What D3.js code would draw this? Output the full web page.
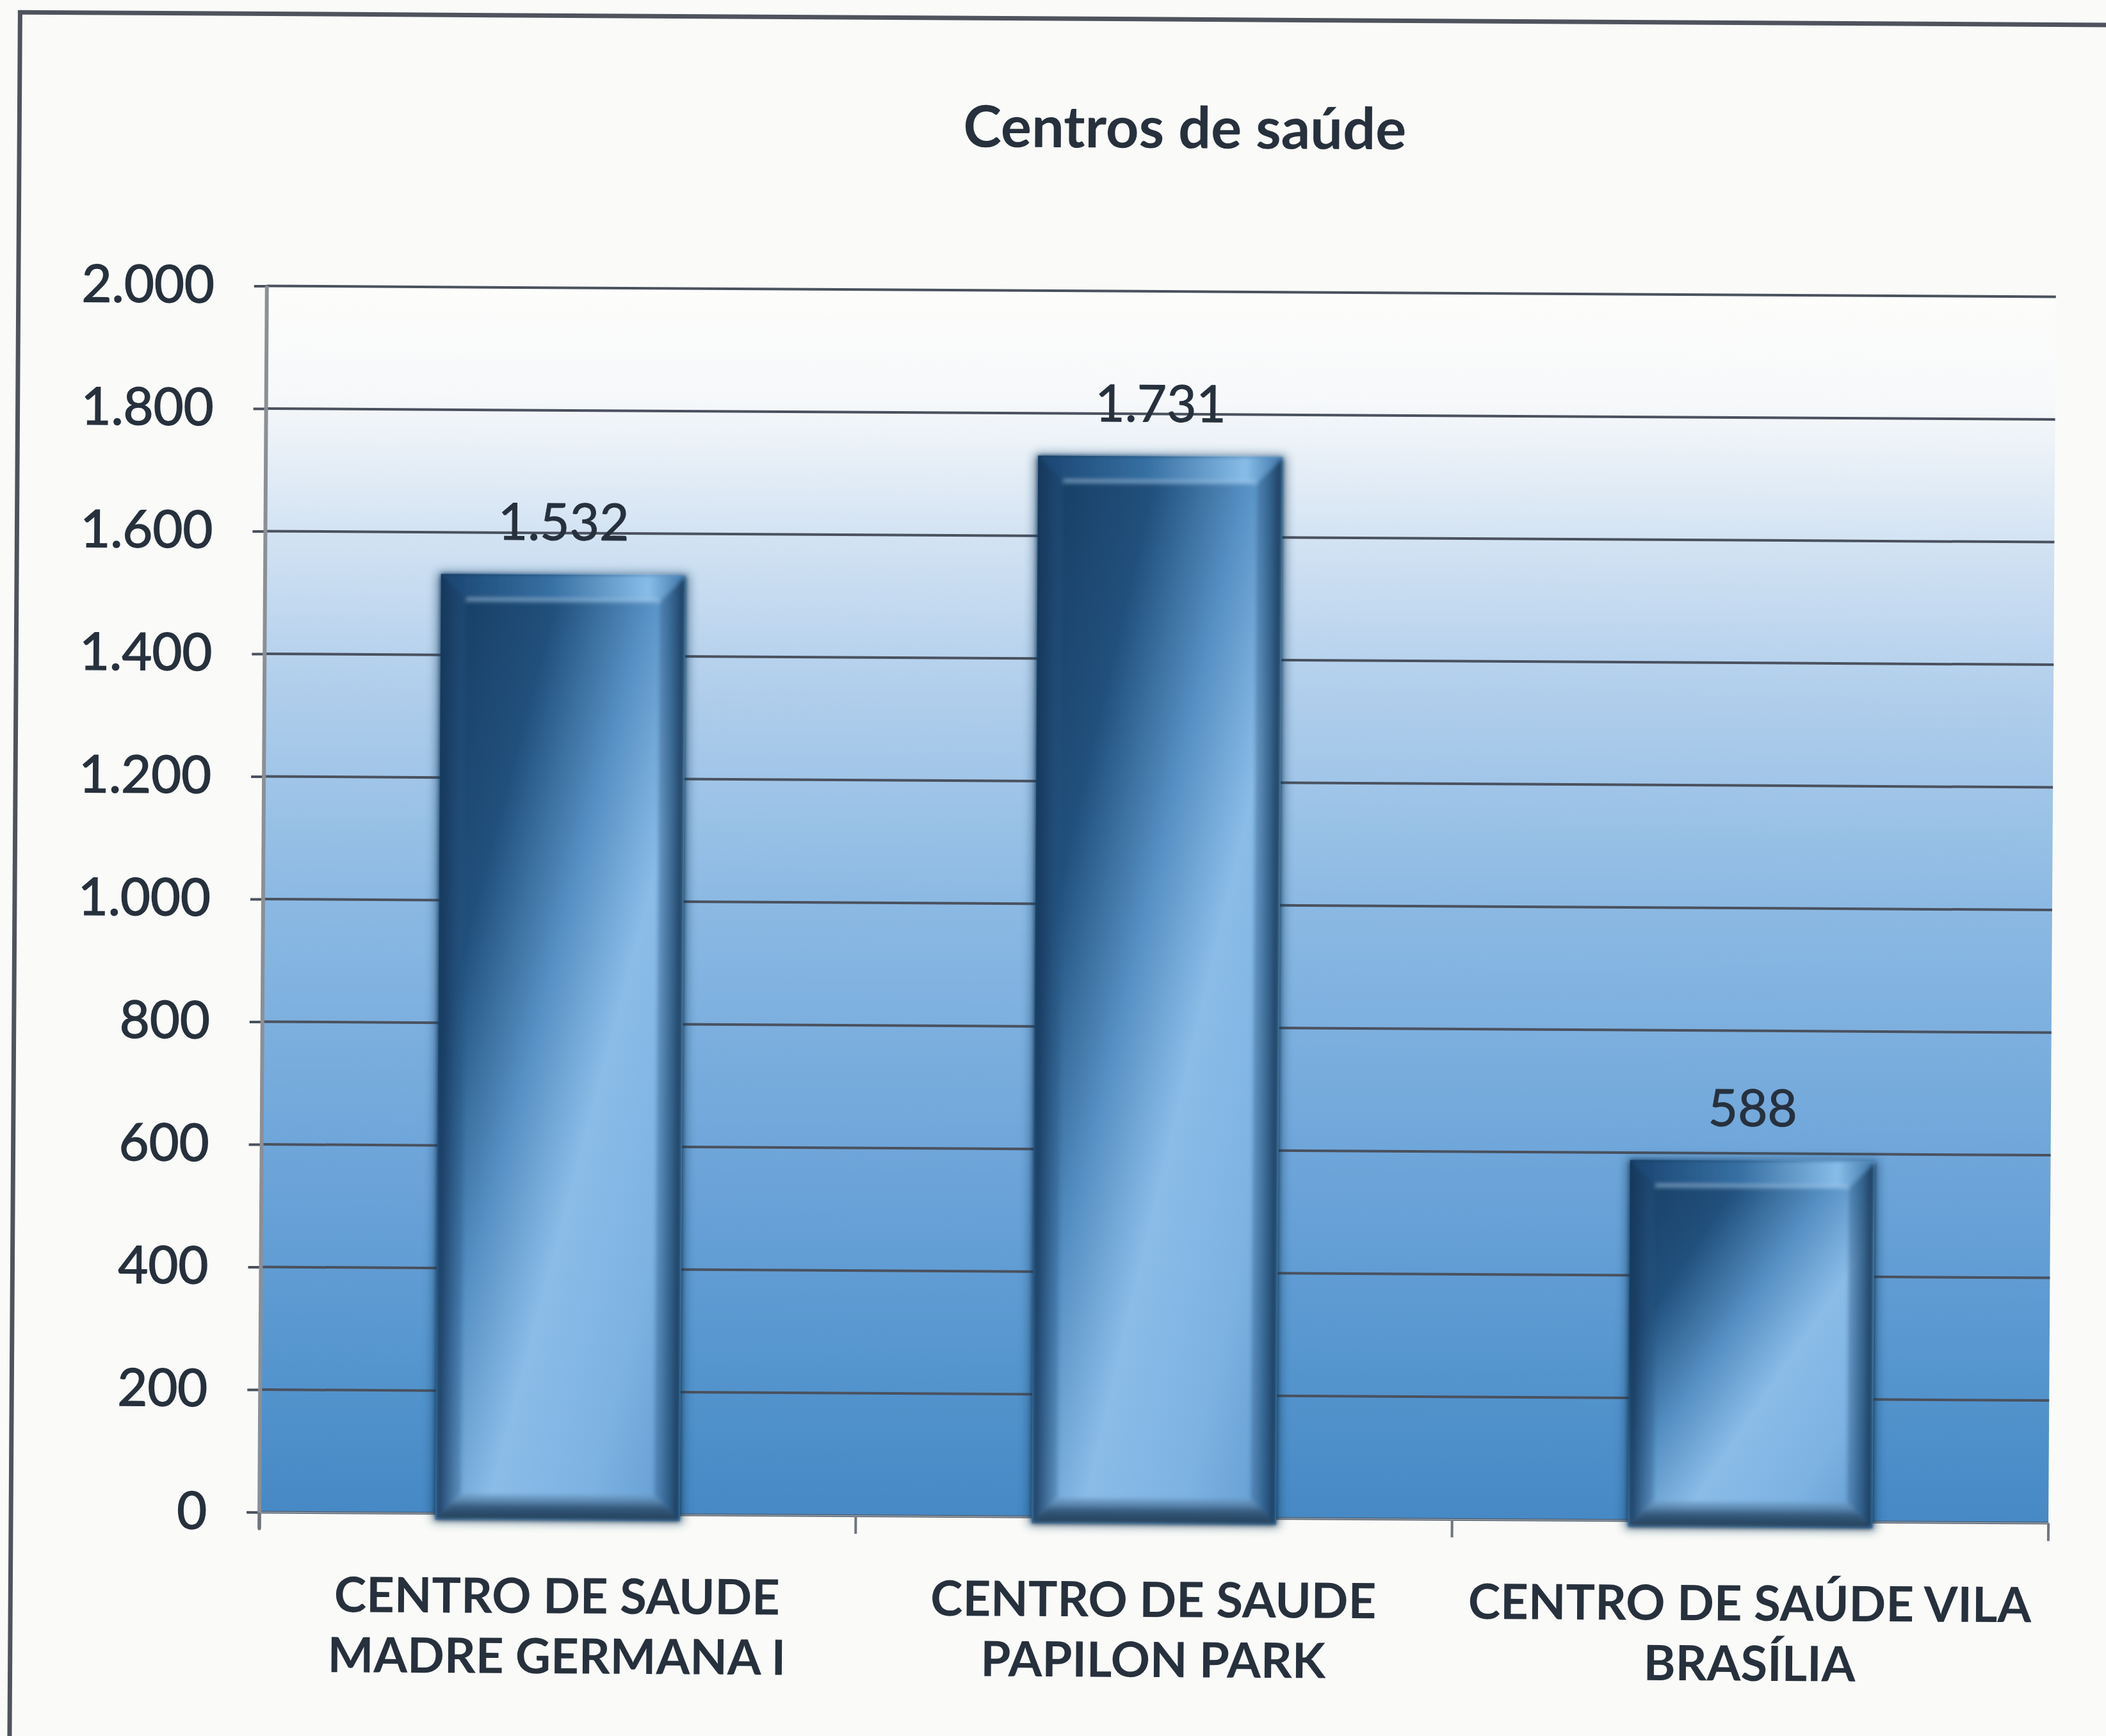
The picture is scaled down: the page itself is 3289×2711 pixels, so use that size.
<!DOCTYPE html>
<html>
<head>
<meta charset="utf-8">
<script src="https://cdn.jsdelivr.net/npm/d3@7"></script>
<style>
  html, body { margin: 0; padding: 0; background: #fafbf8; }
  svg { display: block; }
  text { font-family: Lato, "Liberation Sans", sans-serif; fill: #27313d; }
</style>
</head>
<body>
<div id="chart"></div>
<script>
'use strict';

// Data
var title = 'Centros de saúde'
var categories = [
  'CENTRO DE SAUDE MADRE GERMANA I',
  'CENTRO DE SAUDE PAPILON PARK',
  'CENTRO DE SAÚDE VILA BRASÍLIA'
]
var categoryLines = [
  ['CENTRO DE SAUDE', 'MADRE GERMANA I'],
  ['CENTRO DE SAUDE', 'PAPILON PARK'],
  ['CENTRO DE SAÚDE VILA', 'BRASÍLIA']
]
var values = [1532, 1731, 588]
var yTicks = [0, 200, 400, 600, 800, 1000, 1200, 1400, 1600, 1800, 2000]

var W = 3289, H = 2711
var margin = {top: 455, right: 84, bottom: 341, left: 411}
var width = W - margin.left - margin.right
var height = H - margin.top - margin.bottom

var ptBR = d3.formatLocale({decimal: ',', thousands: '.', grouping: [3], currency: ['R$', '']})
var fmt = ptBR.format(',d')

var svg = d3.select('#chart').append('svg')
    .attr('width', W)
    .attr('height', H)

var defs = svg.append('defs')

function gradient(id, x2, y2, stops) {
  var gr = defs.append('linearGradient')
    .attr('id', id)
    .attr('x1', 0).attr('y1', 0)
    .attr('x2', x2).attr('y2', y2)
  stops.forEach(function(s){
    gr.append('stop')
      .attr('offset', s[0])
      .attr('stop-color', s[1])
      .attr('stop-opacity', s[2] == null ? 1 : s[2])
  })
}

// plot background: white on top, blue at the base
gradient('bg', 0, 1, [
  [0, '#fdfdfb'], [0.09, '#f6f8fa'], [0.2, '#d3e3f3'], [0.32, '#b2cfec'],
  [0.5, '#8bb9e3'], [0.7, '#6fa6da'], [0.88, '#5595ce'], [1, '#4689c5']
])
// bar body (bounding box, diagonal)
gradient('barBody', 1, 1, [
  [0, '#153b60'], [0.25, '#21507c'], [0.44, '#5690c4'], [0.6, '#8bbce7'],
  [0.8, '#7db2e2'], [1, '#5f9ad0']
])
gradient('bevLeft', 1, 0, [[0, '#123457', 0.95], [1, '#245582', 0.3]])
gradient('bevRight', 1, 0, [[0, '#2c5f8d', 0.4], [1, '#103252', 0.97]])
gradient('bevTop', 1, 0, [
  [0, '#194470'], [0.45, '#3770a3'], [0.85, '#88bde8'], [1, '#3c74a6']
])
gradient('bevBottom', 0, 1, [[0, '#6a98c2', 0.55], [0.5, '#34597b'], [1, '#223e57']])

var shadow = defs.append('filter').attr('id', 'soft')
  .attr('x', '-10%').attr('y', '-10%').attr('width', '120%').attr('height', '120%')
shadow.append('feGaussianBlur').attr('stdDeviation', 8)

var smooth = defs.append('filter').attr('id', 'smooth')
  .attr('x', '-5%').attr('y', '-5%').attr('width', '110%').attr('height', '110%')
smooth.append('feGaussianBlur').attr('stdDeviation', 3)

// the scan is slightly rotated
var root = svg.append('g').attr('transform', 'rotate(0.35,1800,1400)')

// chart frame
root.append('rect')
  .attr('x', 23).attr('y', 30)
  .attr('width', 3500).attr('height', 2900)
  .style('fill', 'none')
  .style('stroke', '#4e535d')
  .style('stroke-width', 7)

root.append('text')
  .attr('x', 1843)
  .attr('y', 231)
  .attr('text-anchor', 'middle')
  .style('font-size', '90px')
  .style('font-weight', 700)
  .text(title)

var g = root.append('g')
  .attr('transform', 'translate(' + margin.left + ',' + margin.top + ')')

var x = d3.scaleBand()
  .domain(categories)
  .range([0, width])
  .padding(0)

var y = d3.scaleLinear()
  .domain([0, 2000])
  .range([height, 0])

g.append('rect')
  .attr('x', 0).attr('y', 0)
  .attr('width', width).attr('height', height)
  .style('fill', 'url(#bg)')

// gridlines
g.selectAll('line.grid')
    .data(yTicks)
  .enter().append('line')
    .attr('class', 'grid')
    .attr('x1', 0)
    .attr('x2', width)
    .attr('y1', function(d){ return y(d) })
    .attr('y2', function(d){ return y(d) })
    .style('stroke', '#4a515e')
    .style('stroke-width', 4)

// y axis
var yAxis = g.append('g')
  .call(d3.axisLeft(y).tickValues(yTicks).tickSize(20).tickPadding(62).tickFormat(fmt))
yAxis.select('.domain').remove()
yAxis.selectAll('.tick line').style('stroke', '#4a515e').style('stroke-width', 4)
yAxis.selectAll('.tick text')
  .style('font-size', '81px')
  .style('font-family', 'Lato, sans-serif')
  .style('fill', '#27313d')
  .style('stroke', '#27313d')
  .style('stroke-width', 1.5)

g.append('line')
  .attr('x1', 0).attr('x2', 0)
  .attr('y1', 0).attr('y2', height + 26)
  .style('stroke', '#8b8f96')
  .style('stroke-width', 6)

// x axis: ticks sit between categories
var bounds = categories.map(function(c){ return x(c) }).concat([width])
g.selectAll('line.xtick')
    .data(bounds)
  .enter().append('line')
    .attr('class', 'xtick')
    .attr('x1', function(d){ return d })
    .attr('x2', function(d){ return d })
    .attr('y1', height)
    .attr('y2', height + 28)
    .style('stroke', '#70757d')
    .style('stroke-width', 4)

g.append('line')
  .attr('x1', 0).attr('x2', width)
  .attr('y1', height).attr('y2', height)
  .style('stroke', '#8b9aa8')
  .style('stroke-width', 2)

var xLabels = g.selectAll('text.xlab')
    .data(categories)
  .enter().append('text')
    .attr('class', 'xlab')
    .attr('text-anchor', 'middle')
    .attr('x', function(d){ return x(d) + x.bandwidth() / 2 })
    .attr('y', height + 155)
    .style('font-size', '76px')
    .style('font-weight', 700)

xLabels.each(function(d, i){
  var t = d3.select(this)
  categoryLines[i].forEach(function(line, j){
    t.append('tspan')
      .attr('x', x(d) + x.bandwidth() / 2)
      .attr('dy', j === 0 ? 0 : 94)
      .text(line)
  })
})

// bars with a bevel
var barW = x.bandwidth() * 0.41
var bev = 40
var drop = 10

var bar = g.selectAll('g.bar')
    .data(values)
  .enter().append('g')
    .attr('class', 'bar')
    .attr('transform', function(d, i){
      return 'translate(' + (x(categories[i]) + (x.bandwidth() - barW) / 2) + ',' + y(d) + ')'
    })

function barH(d) { return height - y(d) + drop }

bar.append('rect')
  .attr('x', -5).attr('y', -2)
  .attr('width', barW + 10)
  .attr('height', function(d){ return barH(d) + 5 })
  .style('fill', '#163a5c')
  .style('opacity', 0.6)
  .attr('filter', 'url(#soft)')

bar.append('rect')
  .attr('width', barW)
  .attr('height', barH)
  .style('fill', 'url(#barBody)')

var bevels = bar.append('g').attr('filter', 'url(#smooth)')

bevels.append('polygon')
  .attr('points', function(d){
    var h = barH(d)
    return [[0, 0], [bev, bev], [bev, h - bev], [0, h]].join(' ')
  })
  .style('fill', 'url(#bevLeft)')

bevels.append('polygon')
  .attr('points', function(d){
    var h = barH(d)
    return [[barW, 0], [barW, h], [barW - bev, h - bev], [barW - bev, bev]].join(' ')
  })
  .style('fill', 'url(#bevRight)')

bevels.append('polygon')
  .attr('points', [[0, 0], [barW, 0], [barW - bev, bev], [bev, bev]].join(' '))
  .style('fill', 'url(#bevTop)')

bevels.append('line')
  .attr('x1', bev).attr('x2', barW - bev)
  .attr('y1', bev).attr('y2', bev)
  .style('stroke', 'rgba(175, 212, 240, 0.55)')
  .style('stroke-width', 5)

bevels.append('polygon')
  .attr('points', function(d){
    var h = barH(d)
    return [[0, h], [bev, h - bev], [barW - bev, h - bev], [barW, h]].join(' ')
  })
  .style('fill', 'url(#bevBottom)')

// value labels
g.selectAll('text.val')
    .data(values)
  .enter().append('text')
    .attr('class', 'val')
    .attr('text-anchor', 'middle')
    .attr('x', function(d, i){ return x(categories[i]) + x.bandwidth() / 2 })
    .attr('y', function(d){ return y(d) - 54 })
    .style('font-size', '80px')
    .style('stroke', '#27313d')
    .style('stroke-width', 1)
    .text(function(d){ return fmt(d) })
</script>
</body>
</html>
